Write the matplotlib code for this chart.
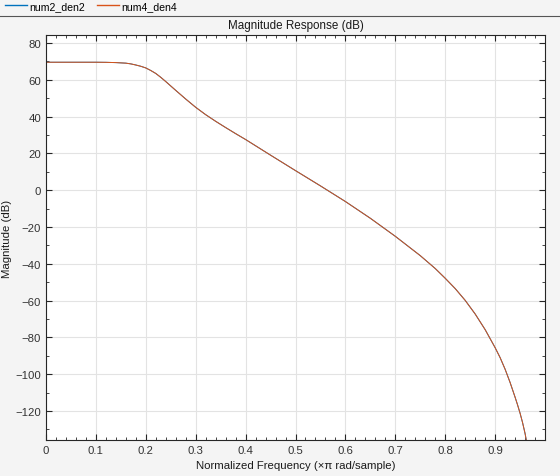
import matplotlib
matplotlib.use('Agg')
import matplotlib.pyplot as plt
from matplotlib.ticker import MultipleLocator
from matplotlib.lines import Line2D

plt.rcParams['font.family'] = ['Liberation Sans', 'DejaVu Sans']

# normalized frequency (x pi rad/sample) and magnitude (dB)
freq = [0.0, 0.05, 0.1, 0.12, 0.14, 0.16, 0.17, 0.18, 0.19, 0.2, 0.21, 0.22,
        0.23, 0.24, 0.25, 0.26, 0.28, 0.3, 0.32, 0.34, 0.36, 0.38, 0.4, 0.45,
        0.5, 0.55, 0.6, 0.65, 0.7, 0.75, 0.78, 0.8, 0.82, 0.84, 0.86, 0.88,
        0.9, 0.91, 0.92, 0.93, 0.94, 0.945, 0.95, 0.955, 0.96, 0.965]
mag = [69.5, 69.5, 69.5, 69.45, 69.3, 69.0, 68.6, 68.0, 67.3, 66.4, 65.0, 63.4,
       61.3, 59.0, 56.6, 54.2, 49.5, 45.0, 41.0, 37.4, 34.0, 30.7, 27.5, 19.0,
       10.6, 2.3, -6.2, -15.3, -25.1, -35.6, -42.6, -47.9, -53.5, -59.9, -67.3, -75.8,
       -85.6, -91.0, -97.3, -104.5, -112.5, -116.7, -121.2, -126.3, -132.2, -139.5]

names = ['num2_den2', 'num4_den4']
colors = ['#0072BD', '#D95319']

fig = plt.figure(figsize=(5.6, 4.77), dpi=100, facecolor='#f4f4f4')
ax = fig.add_axes([46/560, 1-441/477, 499/560, 405/477])
ax.set_facecolor('white')

for name, c in zip(names, colors):
    ax.plot(freq, mag, color=c, lw=0.7, label=name)

ax.set_xlim(0, 1)
ax.set_ylim(-135.8, 84.3)
ax.xaxis.set_major_locator(MultipleLocator(0.1))
ax.xaxis.set_minor_locator(MultipleLocator(0.02))
ax.yaxis.set_major_locator(MultipleLocator(20))
ax.yaxis.set_minor_locator(MultipleLocator(10))
ax.set_xticks([0, 0.1, 0.2, 0.3, 0.4, 0.5, 0.6, 0.7, 0.8, 0.9])
ax.set_xticklabels(['0', '0.1', '0.2', '0.3', '0.4', '0.5', '0.6', '0.7', '0.8', '0.9'])
ax.grid(True, which='major', color='#e3e3e3', lw=0.8)
ax.set_axisbelow(True)
ax.tick_params(which='both', direction='in', top=True, right=True,
               colors='#262626', labelsize=8.2, labelcolor='#333333')
ax.tick_params(which='major', length=4)
ax.tick_params(which='minor', length=2.5)
for s in ax.spines.values():
    s.set_color('#262626')
    s.set_linewidth(0.8)

ax.set_title('Magnitude Response (dB)', fontsize=8.4, color='#1a1a1a', pad=5)
ax.set_xlabel('Normalized Frequency (\u00d7\u03c0 rad/sample)', fontsize=8.2, color='#1a1a1a', labelpad=4)
ax.set_ylabel('Magnitude (dB)', fontsize=8.2, color='#1a1a1a')
ax.yaxis.set_label_coords(-(46 - 12) / 499, 0.5)

# legend strip at the top
fig.add_artist(Line2D([0, 1], [1-17/477, 1-17/477], color='#555555', lw=0.8))
handles = [Line2D([], [], color=c, lw=1) for c in colors]
fig.legend(handles, names, loc='upper left', bbox_to_anchor=(5/560, 1-2/477), ncol=2,
           frameon=False, fontsize=7.6, handlelength=2.1, handletextpad=0.2,
           columnspacing=1.1, borderpad=0, borderaxespad=0)

fig.savefig('out.png', dpi=100, facecolor=fig.get_facecolor())
